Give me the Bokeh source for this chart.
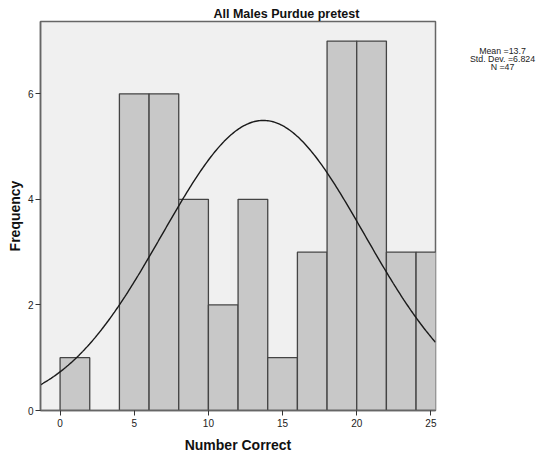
import numpy as np
from bokeh.plotting import figure
from bokeh.layouts import row
from bokeh.models import Range1d, FixedTicker, ColumnDataSource
from bokeh.core.properties import value
from bokeh.embed import file_html
from bokeh.resources import INLINE

# Histogram data (bin width 2)
bin_left = [0, 2, 4, 6, 8, 10, 12, 14, 16, 18, 20, 22, 24]
bin_right = [2, 4, 6, 8, 10, 12, 14, 16, 18, 20, 22, 24, 26]
counts = [1, 0, 6, 6, 4, 2, 4, 1, 3, 7, 7, 3, 3]

# Summary statistics shown on the chart
mean_val = 13.7
std_val = 6.824
n_val = 47
bin_width = 2

x_ticks = [0, 5, 10, 15, 20, 25]
y_ticks = [0, 2, 4, 6]

FONT = "Liberation Sans"

FRAME_LEFT = 40
FRAME_RIGHT = 435
FRAME_TOP = 21
FRAME_BOTTOM = 411
W, H = 542, 455
MAIN_W = 447

X0, X1 = -1.32, 25.31

p = figure(width=MAIN_W, height=H, output_backend="svg", toolbar_location=None,
           x_range=Range1d(X0, X1), y_range=Range1d(0, 7.37),
           min_border_left=FRAME_LEFT, min_border_right=MAIN_W - FRAME_RIGHT,
           min_border_top=FRAME_TOP, min_border_bottom=H - FRAME_BOTTOM)

p.background_fill_color = "#F0F0F0"
p.border_fill_color = "white"
p.outline_line_color = "#666666"
p.outline_line_width = 1.5
p.grid.visible = False

p.title.text = "All Males Purdue pretest"
p.title.align = "left"
p.title.offset = 173
p.title.text_font = FONT
p.title.text_font_style = "bold"
p.title.text_font_size = "12.5px"
p.title.text_color = "#111111"
p.title.standoff = 1
p.title.vertical_align = "bottom"

src = ColumnDataSource(dict(left=[l for l, c in zip(bin_left, counts) if c > 0],
                            right=[r for r, c in zip(bin_right, counts) if c > 0],
                            top=[c for c in counts if c > 0]))
p.quad(left="left", right="right", bottom=0, top="top", source=src,
       fill_color="#C8C8C8", line_color="#444444", line_width=1.3)

# Fitted normal curve from the displayed mean / std. dev. / N
xs = np.linspace(X0, X1, 300)
ys = n_val * bin_width / (std_val * np.sqrt(2 * np.pi)) * np.exp(-0.5 * ((xs - mean_val) / std_val) ** 2)
p.line(xs, ys, line_color="#1a1a1a", line_width=1.4)

for ax in (p.xaxis[0], p.yaxis[0]):
    ax.axis_line_color = "#666666"
    ax.axis_line_width = 1.5
    ax.major_tick_line_color = "#333333"
    ax.major_tick_in = 0
    ax.major_tick_out = 5
    ax.minor_tick_line_color = None
    ax.major_label_text_font = FONT
    ax.major_label_text_font_size = "10px"
    ax.major_label_text_color = "#222222"
    ax.axis_label_text_font = FONT
    ax.axis_label_text_font_style = "bold"
    ax.axis_label_text_font_size = "14px"
    ax.axis_label_text_color = "#111111"

p.xaxis.ticker = FixedTicker(ticks=x_ticks)
p.yaxis.ticker = FixedTicker(ticks=y_ticks)
p.xaxis.axis_label = "Number Correct"
p.yaxis.axis_label = "Frequency"
p.xaxis.major_label_standoff = 3
p.xaxis.axis_label_standoff = 7
p.yaxis.major_label_standoff = 2
p.yaxis.axis_label_standoff = 2

# Side panel holding the summary statistics.
# Its frame is aligned with the main frame by the row layout, so its
# ranges are expressed in page pixels (y grows downward).
SIDE_W = W - MAIN_W
p2 = figure(width=SIDE_W, height=H, output_backend="svg", toolbar_location=None,
            title=None, x_range=Range1d(0, SIDE_W),
            y_range=Range1d(FRAME_BOTTOM, FRAME_TOP),
            min_border_left=0, min_border_right=0,
            min_border_top=FRAME_TOP, min_border_bottom=H - FRAME_BOTTOM)
p2.axis.visible = False
p2.grid.visible = False
p2.outline_line_color = None
p2.background_fill_color = "white"
p2.border_fill_color = "white"

stats = ["Mean =%s" % mean_val, "Std. Dev. =%s" % std_val, "N =%d" % n_val]
p2.text(x=[502 - MAIN_W] * 3, y=[50.5, 58.8, 67], text=stats,
        text_font=value(FONT), text_font_size="8.8px", text_align="center",
        text_baseline="alphabetic", text_color="#222222")

layout = row(p, p2, spacing=0)
open("out.html", "w").write(file_html(layout, INLINE))
